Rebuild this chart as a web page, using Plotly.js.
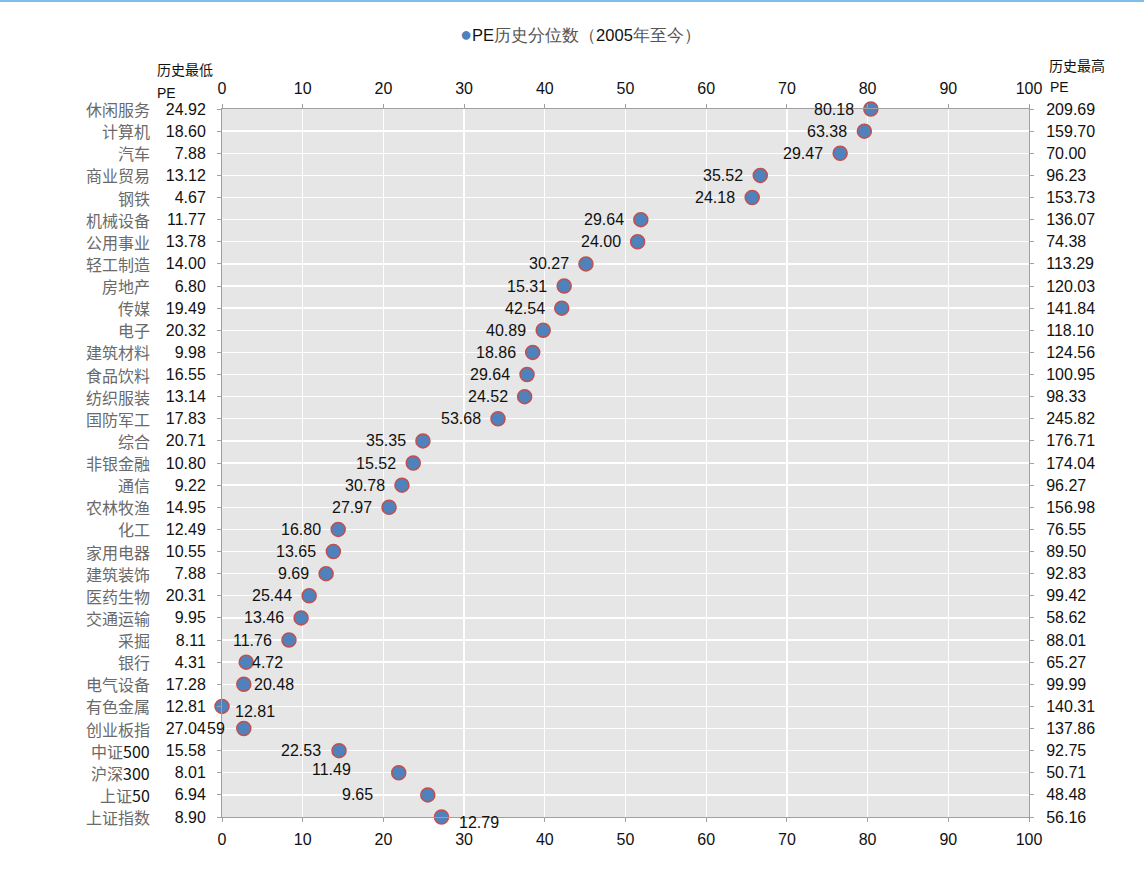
<!DOCTYPE html>
<html>
<head>
<meta charset="utf-8">
<script src="https://cdn.plot.ly/plotly-3.0.1.min.js"></script>
<style>
  html, body { margin: 0; padding: 0; background: #fff; }
  #wrap { position: relative; width: 1144px; height: 870px; }
  #topline { position: absolute; left: 0; top: 0; width: 1144px; height: 2px; background: #7cc0ea; z-index: 5; }
  #chart { width: 1144px; height: 870px; }
</style>
</head>
<body>
<div id="wrap">
  <div id="topline"></div>
  <div id="chart"></div>
</div>
<script>
// Industry / index names, top to bottom
const categories = ['休闲服务','计算机','汽车','商业贸易','钢铁','机械设备','公用事业','轻工制造','房地产','传媒','电子','建筑材料','食品饮料','纺织服装','国防军工','综合','非银金融','通信','农林牧渔','化工','家用电器','建筑装饰','医药生物','交通运输','采掘','银行','电气设备','有色金属','创业板指','中证500','沪深300','上证50','上证指数'];

// Historical low PE (left column)
const lowPE = ['24.92','18.60','7.88','13.12','4.67','11.77','13.78','14.00','6.80','19.49','20.32','9.98','16.55','13.14','17.83','20.71','10.80','9.22','14.95','12.49','10.55','7.88','20.31','9.95','8.11','4.31','17.28','12.81','27.04','15.58','8.01','6.94','8.90'];

// Historical high PE (right column)
const highPE = ['209.69','159.70','70.00','96.23','153.73','136.07','74.38','113.29','120.03','141.84','118.10','124.56','100.95','98.33','245.82','176.71','174.04','96.27','156.98','76.55','89.50','92.83','99.42','58.62','88.01','65.27','99.99','140.31','137.86','92.75','50.71','48.48','56.16'];

// Current PE percentile since 2005 (x position of each dot)
const percentile = [80.4,79.6,76.6,66.7,65.7,51.9,51.5,45.1,42.4,42.1,39.8,38.5,37.8,37.5,34.2,24.9,23.7,22.3,20.7,14.4,13.8,12.9,10.8,9.8,8.3,3.0,2.7,0.0,2.7,14.5,21.9,25.5,27.2];

// Current PE (label beside each dot)
const currentPE = ['80.18','63.38','29.47','35.52','24.18','29.64','24.00','30.27','15.31','42.54','40.89','18.86','29.64','24.52','53.68','35.35','15.52','30.78','27.97','16.80','13.65','9.69','25.44','13.46','11.76','4.72','20.48','12.81','59','22.53','11.49','9.65','12.79'];

// Label placement beside the dot: [side, horizontal shift px, vertical shift px]
const labelPlacement = categories.map(() => ['L', -15, 0]);
labelPlacement[25] = ['R', 4, 0];
labelPlacement[26] = ['R', 8, 0];
labelPlacement[27] = ['R', 11, -5];
labelPlacement[28] = ['L', -17, 0];
labelPlacement[29] = ['L', -16, 0];
labelPlacement[30] = ['L', -46, 3];
labelPlacement[31] = ['L', -53, 0];
labelPlacement[32] = ['R', 15, -5];

const rows = categories.map((_, i) => i);
const nRows = categories.length - 1;

const LAT = '"Liberation Sans", Arial, sans-serif';
const CJK = '"Noto Sans CJK SC", "Noto Sans", sans-serif';
const axisGray = '#a0a0a0';

const trace = {
  type: 'scatter',
  mode: 'markers',
  x: percentile,
  y: rows,
  cliponaxis: false,
  hoverinfo: 'skip',
  showlegend: false,
  marker: { size: 14, color: '#4f81bd', line: { color: '#c0504d', width: 1.5 } }
};

const annotations = [];

// Current PE labels
rows.forEach(i => {
  const [side, dx, dy] = labelPlacement[i];
  annotations.push({
    x: percentile[i], y: i, xref: 'x', yref: 'y',
    text: currentPE[i], showarrow: false,
    xanchor: side === 'L' ? 'right' : 'left', yanchor: 'middle',
    xshift: dx, yshift: dy,
    font: { family: LAT, size: 16, color: '#111' }
  });
});

// Category names at the far left; digits drawn darker
rows.forEach(i => {
  const txt = categories[i].replace(/(\d+)/g, '<span style="color:#111">$1</span>');
  annotations.push({
    x: -0.0867, y: i, xref: 'paper', yref: 'y',
    text: txt, showarrow: false, xanchor: 'right', yanchor: 'middle',
    font: { family: CJK, size: 16, color: '#6a6a6a' }
  });
});

// Column headers
annotations.push(
  { x: -0.083, y: 1.0565, xref: 'paper', yref: 'paper', text: '历史最低', showarrow: false,
    xanchor: 'left', yanchor: 'middle', font: { family: CJK, size: 14, color: '#111' } },
  { x: -0.083, y: 1.0226, xref: 'paper', yref: 'paper', text: 'PE', showarrow: false,
    xanchor: 'left', yanchor: 'middle', font: { family: LAT, size: 14, color: '#111' } },
  { x: 1.0223, y: 1.0621, xref: 'paper', yref: 'paper', text: '历史最高', showarrow: false,
    xanchor: 'left', yanchor: 'middle', font: { family: CJK, size: 14, color: '#111' } },
  { x: 1.0235, y: 1.0311, xref: 'paper', yref: 'paper', text: 'PE', showarrow: false,
    xanchor: 'left', yanchor: 'middle', font: { family: LAT, size: 14, color: '#111' } }
);

// Series key at the top
annotations.push({
  x: 0.2925, y: 1.1055, xref: 'paper', yref: 'paper', showarrow: false,
  xanchor: 'left', yanchor: 'middle',
  text: '<span style="color:#4f81bd;font-size:20px">●</span>PE<span style="color:#555">历史分位数（</span>2005<span style="color:#555">年至今）</span>',
  font: { family: LAT, size: 16.5, color: '#111' }
});

const layout = {
  width: 1144, height: 870,
  margin: { l: 222, r: 115, t: 109, b: 53, pad: 0 },
  paper_bgcolor: '#ffffff',
  plot_bgcolor: '#e6e6e6',
  showlegend: false,
  xaxis: {
    range: [0, 100], dtick: 10, tick0: 0, side: 'bottom',
    showgrid: true, gridcolor: '#ffffff', gridwidth: 1.3, zeroline: false,
    showline: true, linecolor: axisGray, linewidth: 1,
    ticks: 'outside', ticklen: 4, tickcolor: axisGray, ticklabelstandoff: 4,
    tickfont: { family: LAT, size: 16, color: '#111' }, fixedrange: true
  },
  xaxis2: {
    overlaying: 'x', anchor: 'y', side: 'top', matches: 'x',
    range: [0, 100], dtick: 10, tick0: 0,
    showgrid: false, zeroline: false,
    showline: true, linecolor: axisGray, linewidth: 1,
    ticks: 'outside', ticklen: 4, tickcolor: axisGray, ticklabelstandoff: 4,
    tickfont: { family: LAT, size: 16, color: '#111' }, fixedrange: true
  },
  yaxis: {
    range: [nRows, 0], tickmode: 'array', tickvals: rows, ticktext: lowPE,
    showgrid: true, gridcolor: '#ffffff', gridwidth: 1.3, zeroline: false,
    showline: true, linecolor: axisGray, linewidth: 1,
    ticks: 'outside', ticklen: 4, tickcolor: axisGray, ticklabelstandoff: 8,
    tickfont: { family: LAT, size: 16, color: '#111' }, fixedrange: true
  },
  yaxis2: {
    overlaying: 'y', anchor: 'x', side: 'right',
    range: [nRows, 0], tickmode: 'array', tickvals: rows, ticktext: highPE,
    showgrid: false, zeroline: false,
    showline: true, linecolor: axisGray, linewidth: 1,
    ticks: 'outside', ticklen: 4, tickcolor: axisGray, ticklabelstandoff: 9,
    tickfont: { family: LAT, size: 16, color: '#111' }, fixedrange: true
  },
  annotations: annotations
};

// Empty companion traces so the top and right axes are laid out
const topAxisTrace = { type: 'scatter', x: [null], y: [null], xaxis: 'x2', yaxis: 'y', hoverinfo: 'skip', showlegend: false };
const rightAxisTrace = { type: 'scatter', x: [null], y: [null], xaxis: 'x', yaxis: 'y2', hoverinfo: 'skip', showlegend: false };

Plotly.newPlot('chart', [topAxisTrace, rightAxisTrace, trace], layout, { displayModeBar: false, staticPlot: true });
</script>
</body>
</html>
